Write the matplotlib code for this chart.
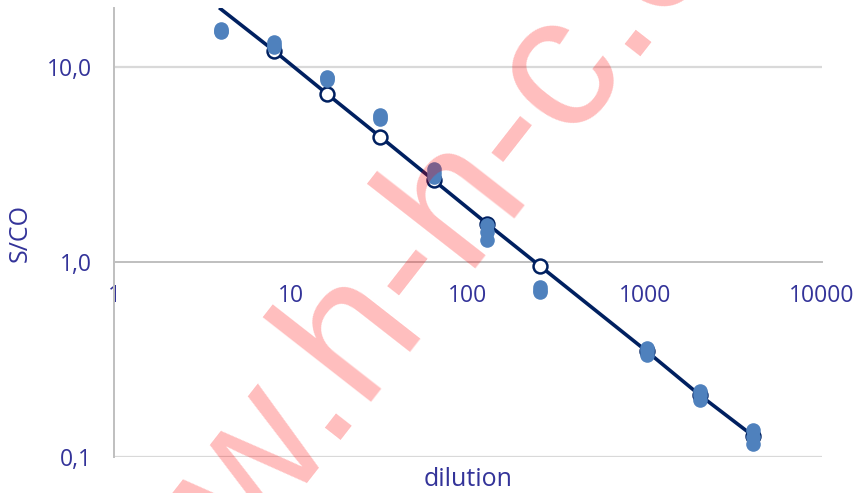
import matplotlib
matplotlib.use("Agg")
import matplotlib.pyplot as plt
from matplotlib.ticker import FixedLocator, NullLocator

# ---- data ----
dilution = [4, 8, 16, 32, 64, 128, 256, 1024, 2048, 4096]
rep1 = [15.6, 13.4, 8.9, 5.64, 2.98, 1.54, 0.74, 0.364, 0.217, 0.138]
rep2 = [15.0, 12.6, 8.6, 5.38, 2.71, 1.30, 0.70, 0.332, 0.197, 0.117]
rep3 = [15.3, 13.0, 8.75, 5.5, 2.85, 1.42, 0.72, 0.348, 0.207, 0.127]
fit_values = [19.8, 12.1, 7.25, 4.37, 2.62, 1.57, 0.95, 0.348, 0.207, 0.128]

x_ticks = [1, 10, 100, 1000, 10000]
x_tick_labels = ["1", "10", "100", "1000", "10000"]
y_ticks = [0.1, 1, 10]
y_tick_labels = ["0,1", "1,0", "10,0"]

plt.rcParams['font.family'] = ['Open Sans', 'DejaVu Sans']

txt_color = "#333399"
navy = "#002060"
blue = "#4F81BD"

fig = plt.figure(figsize=(8.61, 4.93), dpi=100)
ax = fig.add_axes([114/861, 1-457/493, (822-114)/861, (457-8)/493])
ax.set_xscale('log')
ax.set_yscale('log')
ax.set_xlim(1, 10000)
ax.set_ylim(0.1, 20)

# grid lines
for yv in [0.1, 10]:
    ax.axhline(yv, color="#D9D9D9", lw=1.6, zorder=0)

# spines
for s in ['top', 'right']:
    ax.spines[s].set_visible(False)
ax.spines['bottom'].set_position(('data', 1))
ax.spines['bottom'].set_color("#BFBFBF")
ax.spines['bottom'].set_linewidth(1.4)
ax.spines['left'].set_color("#BFBFBF")
ax.spines['left'].set_linewidth(1.4)

# fit line with hollow markers
ax.plot(dilution, fit_values, color=navy, lw=2.6, marker='o', markersize=10,
        markerfacecolor='white', markeredgecolor=navy, markeredgewidth=1.8,
        markevery=slice(1, None), zorder=3, clip_on=True)

# replicate points
for rep in (rep1, rep2, rep3):
    ax.plot(dilution, rep, linestyle='none', marker='o', markersize=10.5,
            color=blue, markeredgewidth=0, zorder=4)

ax.xaxis.set_major_locator(FixedLocator(x_ticks))
ax.xaxis.set_minor_locator(NullLocator())
ax.set_xticklabels(x_tick_labels)
ax.yaxis.set_major_locator(FixedLocator(y_ticks))
ax.yaxis.set_minor_locator(NullLocator())
ax.set_yticklabels(y_tick_labels)
ax.tick_params(axis='x', length=0, pad=16, labelsize=16.5, labelcolor=txt_color)
ax.tick_params(axis='y', length=0, pad=16, labelsize=16.5, labelcolor=txt_color)

fig.text(468/861, 1-480/493, "dilution", ha='center', va='center',
         fontsize=18, color=txt_color)
fig.text(20/861, 1-233/493, "S/CO", ha='center', va='center', rotation=90,
         fontsize=18, color=txt_color)

# watermark
fig.text(446/861, 1-227/493, "www.h-h-c.com", ha='center', va='center',
         rotation=52, rotation_mode='anchor', fontsize=137,
         family='Liberation Sans', color='red', alpha=0.26, zorder=10)

fig.savefig("out.png", dpi=100)
